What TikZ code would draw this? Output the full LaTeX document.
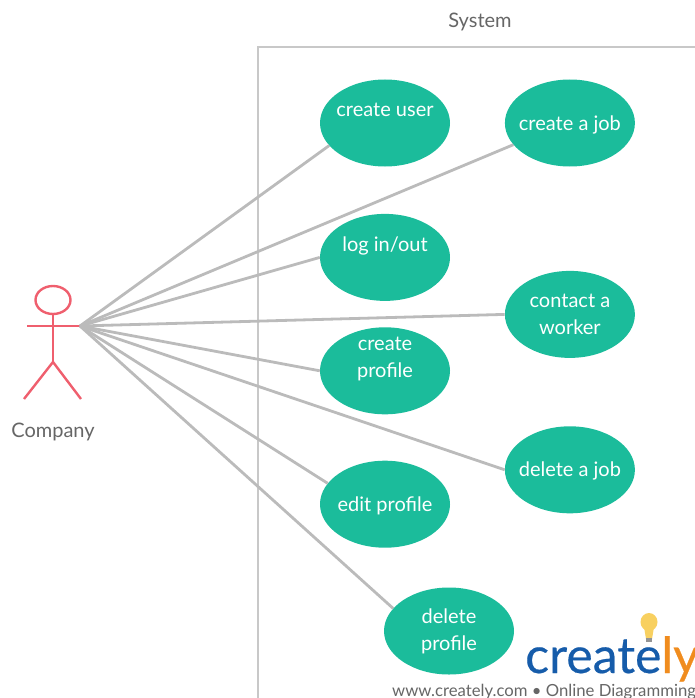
\documentclass[tikz,border=0pt]{standalone}
\usepackage{fontspec}
\setmainfont{Lato}
\usepackage{xcolor}
\definecolor{usecasebg}{RGB}{27,188,155}
\definecolor{linkgray}{RGB}{187,187,187}
\definecolor{framegray}{RGB}{200,200,200}
\definecolor{actorred}{RGB}{239,95,110}
\definecolor{labelgray}{RGB}{102,102,102}
\definecolor{logoblue}{RGB}{22,92,170}
\definecolor{logoorange}{RGB}{240,140,30}
\definecolor{bulbyellow}{RGB}{248,208,96}
\usetikzlibrary{positioning}
\usetikzlibrary{shapes}
\usepackage{tikz}

\begin{document}
\begin{tikzpicture}[x=1pt,y=-1pt,
      font=\fontsize{20}{27}\selectfont,
      case style/.style={ellipse,draw=none,fill=usecasebg,text=white,align=center,
        inner sep=-14pt,minimum width=130pt,minimum height=87pt,
        execute at begin node={\rule{0pt}{18pt}}},
      link style/.style={draw=linkgray,line width=2.8pt},
      actor style/.style={draw=actorred,line width=2.4pt},
      label style/.style={text=labelgray,inner sep=0pt}
      ]
      \useasboundingbox (0,0) rectangle (695,698);
      \clip (0,0) rectangle (695,698);

      \draw[draw=framegray,line width=1.8pt] (258,720) -- (258,47) -- (720,47);
      \node[label style] (system) at (480,22) {System};

      \node[case style] (createuser) at (385,123) {create user\\ \mbox{}};
      \node[case style, right=54.5pt of createuser] (createjob) {create a job};
      \node[case style, below=47pt of createuser] (login) {log in/out\\ \mbox{}};
      \node[case style, below=104pt of createjob] (contact) {contact a\\worker};
      \node[case style, below=26pt of login] (createprofile) {create\\profile\\ \mbox{}};
      \node[case style, below=68pt of contact] (deletejob) {delete a job};
      \node[case style, below=46pt of createprofile] (editprofile) {edit profile};
      \node[case style] (deleteprofile) at (449,631) {delete\\profile};

      % actor
      \node[actor style,ellipse,minimum width=35pt,minimum height=28pt,inner sep=0pt] (head) at (53,300) {};
      \coordinate (hand) at (80,326);
      \coordinate (handleft) at (27,326);
      \coordinate (hip) at (53,362);
      \coordinate (footleft) at (24,399);
      \coordinate (footright) at (81,399);
      \draw[actor style] (head) -- (hip);
      \draw[actor style] (handleft) -- (hand);
      \draw[actor style] (footleft) -- (hip) -- (footright);
      \node[label style] (company) at (53,431.5) {Company};

      \draw[link style] (hand) -- (createuser.202);
      \draw[link style] (hand) -- (createjob.201);
      \draw[link style] (hand) -- (login.west);
      \draw[link style] (hand) -- (contact.west);
      \draw[link style] (hand) -- (createprofile.west);
      \draw[link style] (hand) -- (deletejob.west);
      \draw[link style] (hand) -- (editprofile.160);
      \draw[link style] (hand) -- (deleteprofile.158);

      % logo
      \fill[bulbyellow] (649,622) ellipse (8.5pt and 9pt);
      \fill[bulbyellow] (644,627) -- (654,627) -- (652,639) -- (646,639) -- cycle;
      \fill[labelgray!70] (646,638) rectangle (652,642);
      \node[inner sep=0pt,anchor=base west,font=\fontsize{50}{50}\selectfont\addfontfeature{FakeBold=0.4}] (logo) at (525,673)
        {\textcolor{logoblue}{create}\textcolor{logoorange}{ly}};
      \node[label style,anchor=base west,font=\fontsize{16.7}{18}\selectfont] (website) at (392,696)
        {www.creately.com • Online Diagramming};
    \end{tikzpicture}
\end{document}
